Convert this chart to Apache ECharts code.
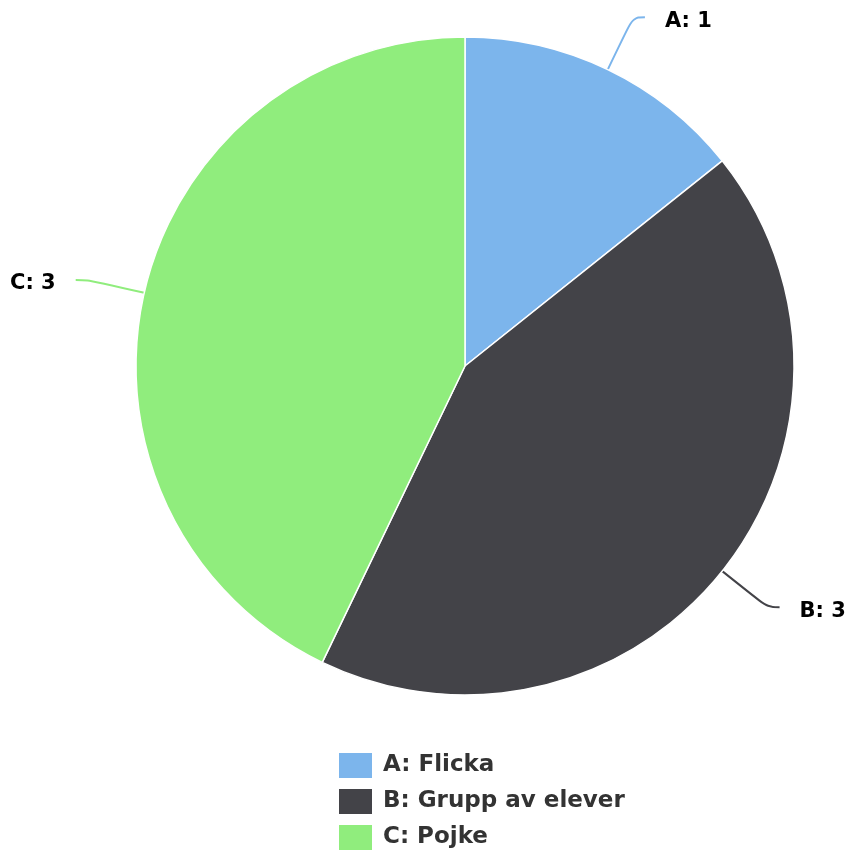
<!DOCTYPE html>
<html>
<head>
<meta charset="utf-8">
<script src="https://cdn.jsdelivr.net/npm/echarts@6/dist/echarts.min.js"></script>
<style>
  html, body { margin: 0; padding: 0; background: #fff; }
  #chart { width: 851px; height: 857px; }
</style>
</head>
<body>
<div id="chart"></div>
<script>
// data
var categories = ['A', 'B', 'C'];
var legendNames = ['A: Flicka', 'B: Grupp av elever', 'C: Pojke'];
var values = [1, 3, 3];
var colors = ['#7cb5ec', '#434348', '#90ed7d'];

var myChart = echarts.init(document.getElementById('chart'));
var option = {
    color: colors,
    textStyle: { fontFamily: 'DejaVu Sans' },
    legend: {
        orient: 'vertical',
        left: 337,
        top: 751,
        padding: 0,
        icon: 'rect',
        itemWidth: 35,
        itemHeight: 27,
        itemGap: 7,
        textStyle: {
            fontSize: 23,
            fontWeight: 'bold',
            color: '#333333',
            padding: [0, 0, 0, 5]
        },
        data: legendNames
    },
    series: [
        {
            type: 'pie',
            center: [465, 366],
            radius: 329,
            startAngle: 90,
            clockwise: true,
            itemStyle: { borderColor: '#ffffff', borderWidth: 1.5 },
            label: {
                show: true,
                color: '#000',
                fontSize: 21,
                fontWeight: 'bold',
                overflow: 'none',
                distanceToLabelLine: 20,
                // small empty first line pushes the text a few px below the line end
                formatter: function (p) { return '{s| }\n{t|' + categories[p.dataIndex] + ': ' + p.value + '}'; },
                rich: {
                    s: { lineHeight: 8, fontSize: 4 },
                    t: { fontSize: 21, fontWeight: 'bold', color: '#000', lineHeight: 25 }
                }
            },
            labelLine: {
                show: true,
                length: 58,
                length2: 12,
                smooth: 0.4,
                lineStyle: { width: 2 }
            },
            emphasis: { disabled: true },
            data: legendNames.map(function (n, i) { return { name: n, value: values[i] }; })
        }
    ]
};
myChart.setOption(option, true);
</script>
</body>
</html>
